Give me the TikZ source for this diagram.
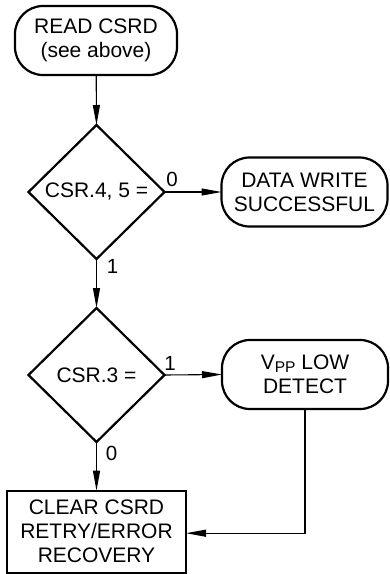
\documentclass[tikz,border=0pt]{standalone}
\usepackage{fontspec}
\setmainfont{Liberation Sans}
\usetikzlibrary{shapes.geometric,arrows.meta,calc}
\begin{document}
\begin{tikzpicture}[x=1pt,y=-1pt,
  every node/.style={font=\fontsize{21}{24}\selectfont, inner sep=0pt, outer sep=0pt, align=center},
  termbox/.style={draw, line width=2.2pt, rounded corners=28pt, minimum width=#1, minimum height=69pt},
  decision/.style={draw, diamond, line width=2.2pt, minimum width=136pt, minimum height=134pt},
  actbox/.style={draw, line width=2.2pt, minimum width=179pt, minimum height=82pt},
  conn/.style={line width=1.1pt, -{Triangle[length=20pt,width=7pt]}},
  lbl/.style={font=\fontsize{20.5}{20}\selectfont}
]
\useasboundingbox (0,0) rectangle (389,574);
\node[termbox=162pt] (read) at (96,40.5) {READ CSRD\\(see above)};
\node[decision] (d1) at (96.5,192) {CSR.4, 5 =};
\node[termbox=166pt] (dw) at (304.5,192) {DATA WRITE\\SUCCESSFUL};
\node[decision] (d2) at (96.5,375) {CSR.3 =};
\node[termbox=166pt] (vpp) at (305,374.5) {V\raisebox{-2.5pt}{\fontsize{15.5}{15}\selectfont PP} LOW\\DETECT};
\node[actbox] (clr) at (96.5,531.7) {CLEAR CSRD\\RETRY/ERROR\\RECOVERY};
\coordinate (clrin) at ($(clr.east)+(0,1.5)$);

\draw[conn] (read) -- (d1.north);
\draw[conn] (d1.east) -- (dw.west);
\draw[conn] (d1.south) -- (d2.north);
\draw[conn] (d2.east) -- (vpp.west);
\draw[conn] (d2.south) -- (clr.north);
\draw[conn] (vpp.south) |- (clrin);

\node[lbl] (l0a) at ($(d1.east)+(7.5,-12.3)$) {0};
\node[lbl] (l1a) at ($(d1.south)+(16,7.8)$) {1};
\node[lbl] (l1b) at ($(d2.east)+(5.5,-11.7)$) {1};
\node[lbl] (l0b) at ($(d2.south)+(15,11)$) {0};
\end{tikzpicture}
\end{document}
